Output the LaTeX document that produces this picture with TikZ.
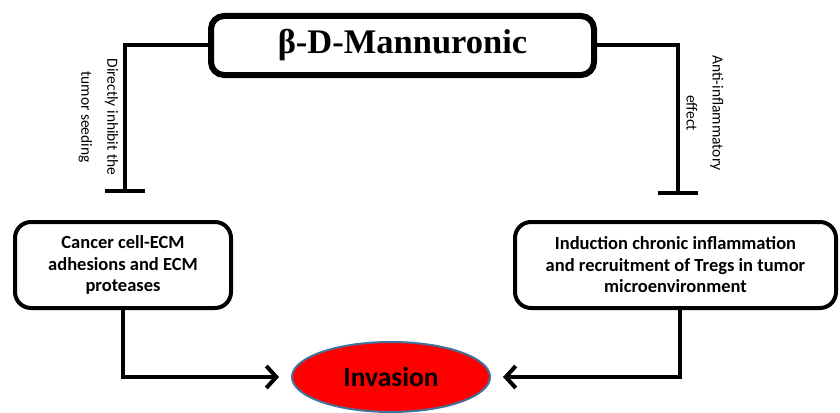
\documentclass[tikz,border=0pt]{standalone}
\usepackage{fontspec}
\setmainfont{Carlito}
\newfontfamily\titlefont{Liberation Serif}
\usepackage{tikz}
\usetikzlibrary{shapes,arrows.meta}
\definecolor{invborder}{HTML}{41719C}

\tikzset{
    titlebox/.style={draw,line width=6pt,rounded corners=13pt,minimum width=383pt,minimum height=59pt,inner sep=0pt,font=\titlefont\fontsize{34.5}{38}\selectfont\bfseries},
    causebox/.style={draw,line width=4pt,rounded corners=16pt,minimum height=86pt,inner sep=0pt,align=center,font=\fontsize{18.5}{21.5}\selectfont\bfseries},
    inhibit/.style={line width=4pt,-{Bar[width=40pt,line width=4pt]}},
    flow/.style={line width=4pt,-{Straight Barb[length=10pt,width=22pt,line width=4pt]},shorten >=12pt},
    sidelabel/.style={rotate=-90,align=center,inner sep=0pt,font=\fontsize{15.5}{26}\selectfont}
}

\begin{document}
\begin{tikzpicture}[x=1pt,y=-1pt]
    \useasboundingbox (0,0) rectangle (840,412);
    % Boxes
    \node[titlebox] (mannuronic) at (402.5,45.5) {β-D-Mannuronic};
    \node[causebox,minimum width=216pt] (ecm) at (123,265) {Cancer cell-ECM\\adhesions and ECM\\proteases};
    \node[causebox,minimum width=321pt] (treg) at (675.5,265) {Induction chronic inflammation\\and recruitment of Tregs in tumor\\microenvironment};
    % Invasion
    \node[ellipse,fill=red,draw=invborder,line width=2pt,minimum width=198pt,minimum height=70pt,inner sep=0pt,font=\fontsize{27.5}{30}\selectfont\bfseries] (invasion) at (391,377) {Invasion};
    % Inhibition lines
    \draw[inhibit] (mannuronic.west) -| ([xshift=2pt,yshift=27pt]ecm.north);
    \draw[inhibit] (mannuronic.east) -| ([xshift=2.5pt,yshift=25pt]treg.north);
    % Side labels
    \node[sidelabel] (seedlabel) at (98.5,117) {Directly inhibit the\\tumor seeding};
    \node[sidelabel] (inflabel) at (705,113) {Anti-inflammatory\\effect};
    % Arrows to invasion
    \draw[flow] (ecm.south) |- (invasion.west);
    \draw[flow] ([xshift=4.5pt]treg.south) |- (invasion.east);
\end{tikzpicture}
\end{document}
